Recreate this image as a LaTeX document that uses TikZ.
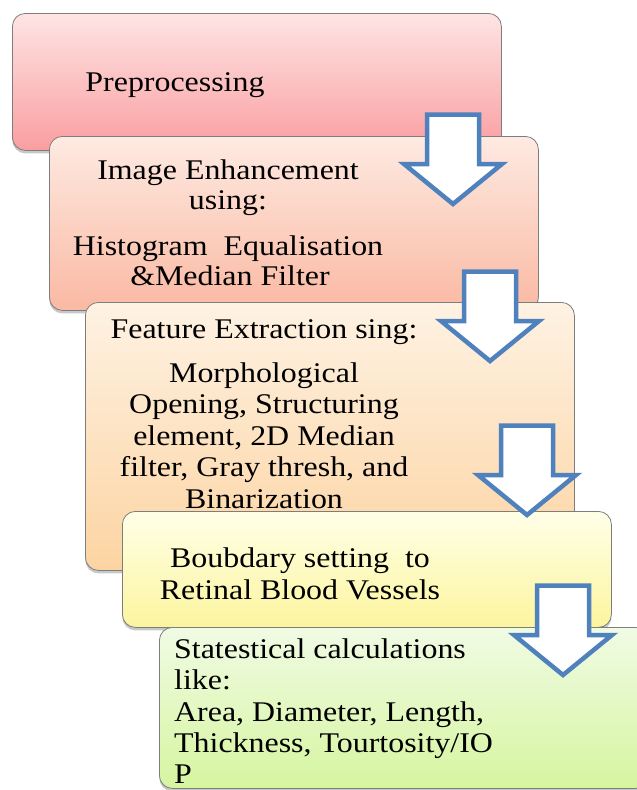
\documentclass[tikz,border=0pt]{standalone}
\usepackage{fontspec}
\setmainfont{Liberation Serif}[FakeStretch=1.12]
\usetikzlibrary{shadows}
\definecolor{arrowblue}{RGB}{79,129,189}
\definecolor{boxborder}{RGB}{125,125,125}
\definecolor{pinkT}{RGB}{254,228,228}
\definecolor{pinkB}{RGB}{250,158,160}
\definecolor{salmonT}{RGB}{254,234,226}
\definecolor{salmonB}{RGB}{250,185,163}
\definecolor{orangeT}{RGB}{254,242,227}
\definecolor{orangeB}{RGB}{252,212,162}
\definecolor{yellowT}{RGB}{255,255,232}
\definecolor{yellowB}{RGB}{252,245,158}
\definecolor{greenT}{RGB}{240,251,228}
\definecolor{greenB}{RGB}{214,245,160}
\begin{document}
\begin{tikzpicture}[x=1pt,y=-1pt,
  stage/.style={draw=boxborder, line width=0.8pt, rounded corners=13pt,
    anchor=north west, inner sep=0pt, minimum width=489pt,
    drop shadow={shadow xshift=0pt, shadow yshift=-3pt, opacity=0.3, fill=black!70}},
  label/.style={inner sep=0pt, anchor=base, font=\fontsize{28.5}{31.5}\selectfont},
  labelL/.style={label, anchor=base west},
  downarrow/.style={draw=arrowblue, fill=white, line width=4.5pt, miter limit=10}]
\clip (0,0) rectangle (637,790);
\fill[white] (0,0) rectangle (637,790);
% boxes
\node[stage, top color=pinkT, bottom color=pinkB, minimum height=137pt] (b1) at (12,13) {};
\node[stage, top color=salmonT, bottom color=salmonB, minimum height=174pt] (b2) at (49,136) {};
\node[stage, top color=orangeT, bottom color=orangeB, minimum height=268pt] (b3) at (85,302) {};
\node[stage, top color=yellowT, bottom color=yellowB, minimum height=116pt] (b4) at (122,511) {};
\node[stage, top color=greenT, bottom color=greenB, minimum height=161pt] (b5) at (159,627) {};
% texts
\node[label] (t1) at (175,91) {Preprocessing};
\node[label] (t2a) at (228,179) {Image Enhancement};
\node[label] (t2b) at (228,209) {using:};
\node[label] (t2c) at (228,255) {Histogram\ \ Equalisation};
\node[label] (t2d) at (230,285) {\&Median Filter};
\node[label] (t3a) at (264,338) {Feature Extraction sing:};
\node[label] (t3b) at (264,382) {Morphological};
\node[label] (t3c) at (264,413.5) {Opening, Structuring};
\node[label] (t3d) at (264,445) {element, 2D Median};
\node[label] (t3e) at (264,476.5) {filter, Gray thresh, and};
\node[label] (t3f) at (264,508) {Binarization};
\node[label] (t4a) at (300,567) {Boubdary setting\ \ to};
\node[label] (t4b) at (300,599) {Retinal Blood Vessels};
\node[labelL] (t5a) at (174,658) {Statestical calculations};
\node[labelL] (t5b) at (174,689.5) {like:};
\node[labelL] (t5c) at (174,721) {Area, Diameter, Length,};
\node[labelL] (t5d) at (174,752.5) {Thickness, Tourtosity/IO};
\node[labelL] (t5e) at (174,783.5) {P};
% block arrows
\foreach \cx/\ty in {453/112, 490/269, 527/423, 563/583}
  \draw[downarrow] (\cx-26,\ty+2.5) -- (\cx+26,\ty+2.5) -- (\cx+26,\ty+52)
    -- (\cx+49,\ty+52) -- (\cx,\ty+92) -- (\cx-49,\ty+52) -- (\cx-26,\ty+52) -- cycle;
\end{tikzpicture}
\end{document}
